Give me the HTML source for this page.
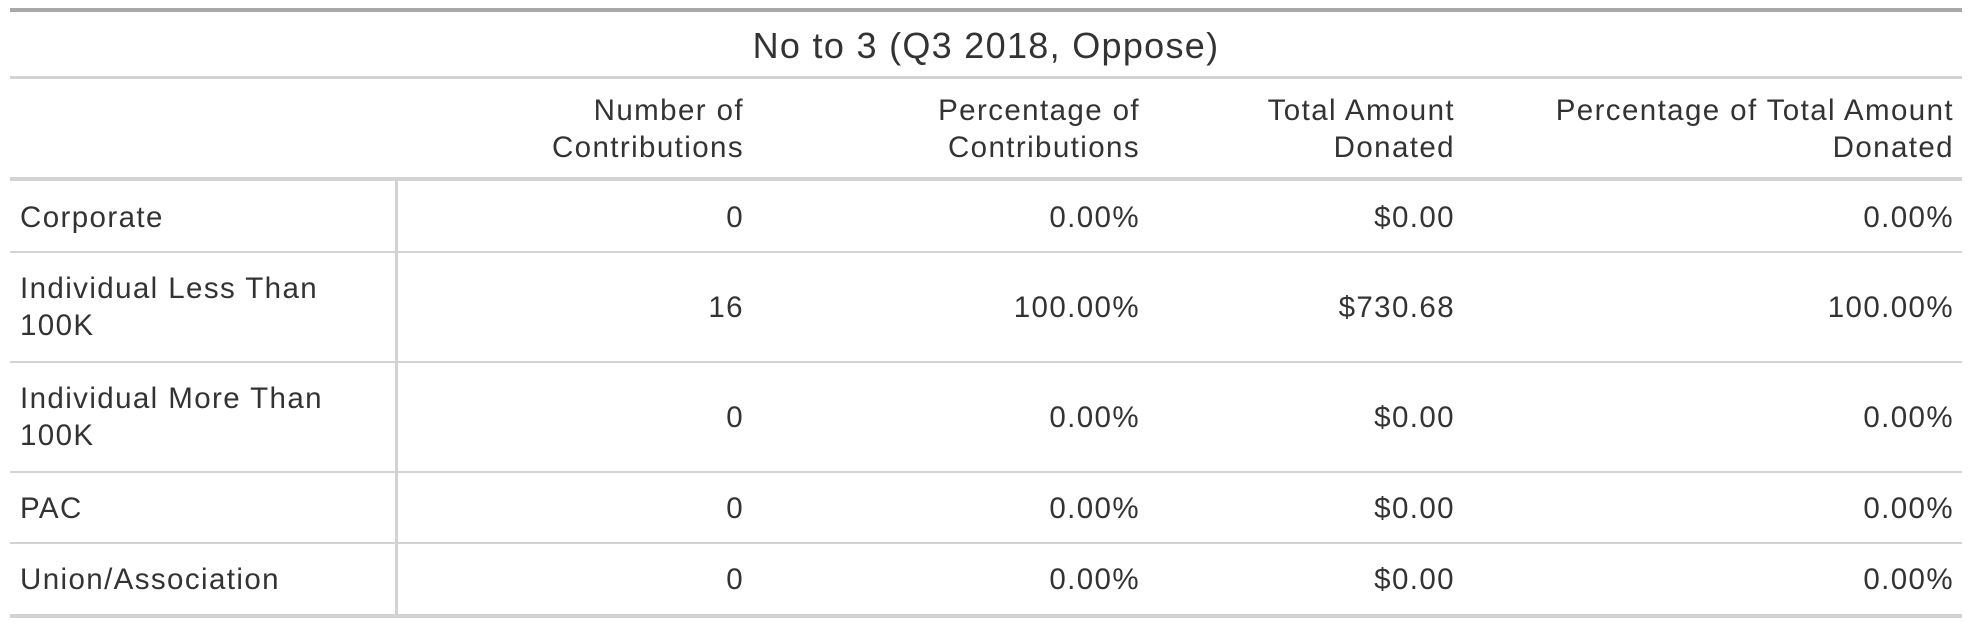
<!DOCTYPE html>
<html><head><meta charset="utf-8"><style>
body{margin:0;width:1972px;height:626px;background:#fff;position:relative;overflow:hidden;font-family:"Liberation Sans",sans-serif;color:#333;}
.ln{position:absolute;left:10px;width:1952px;background:#d3d3d3;}
.t{position:absolute;font-size:29.5px;line-height:37px;white-space:nowrap;letter-spacing:1.4px;}
.r{text-align:right;}
</style></head><body>
<div class="ln" style="top:8px;height:4px;background:#a8a8a8"></div>
<div class="t" style="left:0;width:1972px;text-align:center;top:26px;font-size:36px;line-height:40px;letter-spacing:1.3px">No to 3 (Q3 2018, Oppose)</div>
<div class="ln" style="top:76px;height:3px"></div>
<div class="t r" style="right:1228px;top:92px">Number of<br>Contributions</div>
<div class="t r" style="right:832px;top:92px">Percentage of<br>Contributions</div>
<div class="t r" style="right:517px;top:92px">Total Amount<br>Donated</div>
<div class="t r" style="right:18px;top:92px">Percentage of Total Amount<br>Donated</div>
<div class="ln" style="top:177px;height:4px"></div>
<div style="position:absolute;left:395px;top:181px;width:3px;height:435px;background:#d3d3d3"></div>
<div id="rows"></div>
<div class="ln" style="top:614px;height:4px"></div>
<script>
const labels=["Corporate","Individual Less Than<br>100K","Individual More Than<br>100K","PAC","Union/Association"];
const counts=["0","16","0","0","0"];
const pcts=["0.00%","100.00%","0.00%","0.00%","0.00%"];
const totals=["$0.00","$730.68","$0.00","$0.00","$0.00"];
const pctTotals=["0.00%","100.00%","0.00%","0.00%","0.00%"];
const tops=[181,252,362,472,543,614];
const c=document.getElementById('rows');
for(let i=0;i<labels.length;i++){
  const y0=tops[i],y1=tops[i+1],mid=(y0+y1)/2;
  const two=labels[i].includes('<br>');
  const lab=document.createElement('div');
  lab.className='t';
  
  
  lab.style.left='20px';lab.style.top=(mid-(two?37:18))+'px';
  lab.innerHTML=labels[i];c.appendChild(lab);
  const vals=[[counts[i],1228],[pcts[i],832],[totals[i],517],[pctTotals[i],18]];
  vals.forEach(v=>{
    const d=document.createElement('div');
    d.className='t r';
    
    
    d.style.right=v[1]+'px';d.style.top=(mid-18)+'px';
    d.textContent=v[0];c.appendChild(d);
  });
  if(i<labels.length-1){
    const l=document.createElement('div');
    l.className='ln';
    
    
    l.style.top=(y1-1)+'px';l.style.height='2px';c.appendChild(l);
  }
}
</script>
</body></html>
